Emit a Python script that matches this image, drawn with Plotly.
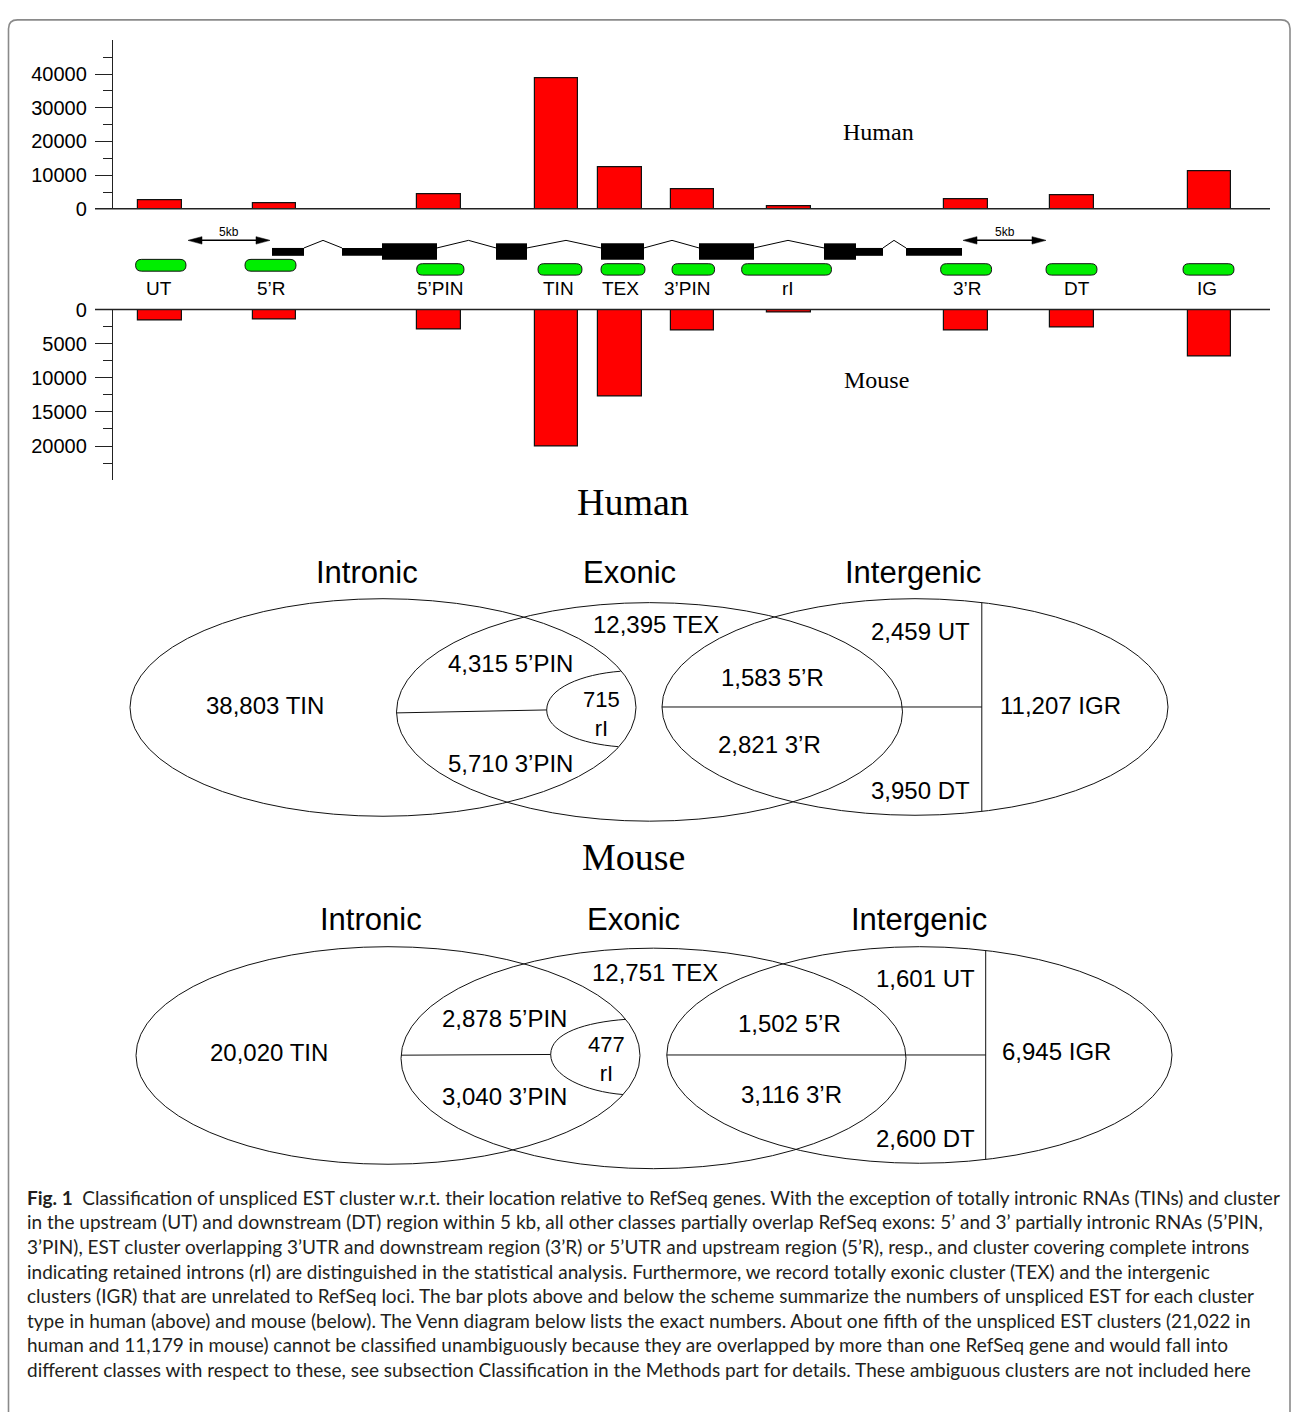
import plotly.graph_objects as go

W, H = 1291, 1412

# ---------------- data ----------------
categories = ["UT", "5’R", "5’PIN", "TIN", "TEX", "3’PIN", "rI", "3’R", "DT", "IG"]
human_counts = [2459, 1583, 4315, 38803, 12395, 5710, 715, 2821, 3950, 11207]
mouse_counts = [1601, 1502, 2878, 20020, 12751, 3040, 477, 3116, 2600, 6945]
human_ticks = [0, 10000, 20000, 30000, 40000]
human_minor = [5000, 15000, 25000, 35000, 45000]
mouse_ticks = [0, 5000, 10000, 15000, 20000]
mouse_minor = [2500, 7500, 12500, 17500, 22500]
venn_sets = ["Intronic", "Exonic", "Intergenic"]
venn_names = ["UT", "5’R", "5’PIN", "TIN", "TEX", "3’PIN", "rI", "3’R", "DT", "IGR"]

caption_lines = [
    "<b>Fig. 1</b>\u2002Classification of unspliced EST cluster w.r.t. their location relative to RefSeq genes. With the exception of totally intronic RNAs (TINs) and cluster",
    "in the upstream (UT) and downstream (DT) region within 5 kb, all other classes partially overlap RefSeq exons: 5’ and 3’ partially intronic RNAs (5’PIN,",
    "3’PIN), EST cluster overlapping 3’UTR and downstream region (3’R) or 5’UTR and upstream region (5’R), resp., and cluster covering complete introns",
    "indicating retained introns (rI) are distinguished in the statistical analysis. Furthermore, we record totally exonic cluster (TEX) and the intergenic",
    "clusters (IGR) that are unrelated to RefSeq loci. The bar plots above and below the scheme summarize the numbers of unspliced EST for each cluster",
    "type in human (above) and mouse (below). The Venn diagram below lists the exact numbers. About one fifth of the unspliced EST clusters (21,022 in",
    "human and 11,179 in mouse) cannot be classified unambiguously because they are overlapped by more than one RefSeq gene and would fall into",
    "different classes with respect to these, see subsection Classification in the Methods part for details. These ambiguous clusters are not included here",
]

# ---------------- layout (scheme coordinates, pixels) ----------------
bar_x = [160, 274.5, 439, 556.7, 620, 692.5, 789, 966, 1072, 1209.5]
BAR_W = 43.5
pill_x = [(135.6, 186), (245, 296), (416.7, 464), (538, 582), (601, 645),
          (672, 714.6), (741.6, 831.5), (940.6, 991.6), (1046, 1097), (1183, 1234)]
pill_y = [(252.3, 264.3), (252.3, 264.3)] + [(256.7, 268.3)] * 8
label_x = [159, 271.6, 440, 558, 620.6, 687, 788, 967.5, 1077, 1207]

SANS = "Liberation Sans, Arial, Helvetica, sans-serif"
SERIF = "Liberation Serif, Times New Roman, serif"


def X(p):
    return p / W


def Y(p):
    return 1 - p / H


def pt(x, y):
    return f"{X(x):.6f},{Y(y):.6f}"


fig = go.Figure()

fig.add_trace(go.Bar(x=bar_x, y=human_counts, width=BAR_W, xaxis="x", yaxis="y",
                     marker=dict(color="#ff0000", line=dict(color="#111111", width=1.2)),
                     showlegend=False, hoverinfo="skip"))
fig.add_trace(go.Bar(x=bar_x, y=mouse_counts, width=BAR_W, xaxis="x", yaxis="y2",
                     marker=dict(color="#ff0000", line=dict(color="#111111", width=1.2)),
                     showlegend=False, hoverinfo="skip"))

shapes = []
ann = []

# frame
frame = (f"M {pt(8.5, 1430)} L {pt(8.5, 18)} Q {pt(8.5, 9)} {pt(17.5, 9)} L {pt(1281, 9)} "
         f"Q {pt(1290, 9)} {pt(1290, 18)} L {pt(1290, 1430)}")
shapes.append(dict(type="path", xref="paper", yref="paper", path=frame,
                   line=dict(color="#8a8a8a", width=1.6)))

# baselines
for yb in (201, 303.3):
    shapes.append(dict(type="line", xref="paper", yref="paper", x0=X(95), x1=X(1270),
                       y0=Y(yb), y1=Y(yb), line=dict(color="#222222", width=1.5)))

# gene scheme: exons
thin = (240.7, 248.7)
thick = (236, 252.7)
exons = [(272, 304, thin), (342, 382, thin), (382, 437, thick), (496, 527, thick),
         (601, 644, thick), (699, 754, thick), (824, 856, thick), (856, 883, thin),
         (906, 962, thin)]
for x0, x1, (ya, yb) in exons:
    shapes.append(dict(type="rect", xref="paper", yref="paper", x0=X(x0), x1=X(x1),
                       y0=Y(yb), y1=Y(ya), fillcolor="#000000", line=dict(width=0)))
introns = [(304, 323, 342), (437, 468.5, 496), (527, 566, 601), (644, 672, 699),
           (754, 788, 824), (883, 894, 906)]
for a, m, b in introns:
    shapes.append(dict(type="path", xref="paper", yref="paper",
                       path=f"M {pt(a, 240.7)} L {pt(m, 233)} L {pt(b, 240.7)}",
                       line=dict(color="#000000", width=1)))

# 5kb arrows
for a, b in ((188, 270), (963, 1046)):
    yy = 233
    shapes.append(dict(type="line", xref="paper", yref="paper", x0=X(a + 10), x1=X(b - 10),
                       y0=Y(yy), y1=Y(yy), line=dict(color="#000000", width=1.5)))
    shapes.append(dict(type="path", xref="paper", yref="paper",
                       path=f"M {pt(a, yy)} L {pt(a + 14, yy - 3.8)} L {pt(a + 14, yy + 3.8)} Z",
                       fillcolor="#000000", line=dict(color="#000000", width=0.5)))
    shapes.append(dict(type="path", xref="paper", yref="paper",
                       path=f"M {pt(b, yy)} L {pt(b - 14, yy - 3.8)} L {pt(b - 14, yy + 3.8)} Z",
                       fillcolor="#000000", line=dict(color="#000000", width=0.5)))
    ann.append(dict(x=X((a + b) / 2), y=Y(224), xref="paper", yref="paper", text="5kb",
                    showarrow=False, font=dict(family=SANS, size=12, color="#000000"),
                    xanchor="center", yanchor="middle"))

# pills and labels
for (x0, x1), (y0, y1), lx, name in zip(pill_x, pill_y, label_x, categories):
    r = (y1 - y0) / 2
    p = (f"M {pt(x0 + r, y0)} L {pt(x1 - r, y0)} Q {pt(x1, y0)} {pt(x1, y0 + r)} "
         f"Q {pt(x1, y1)} {pt(x1 - r, y1)} L {pt(x0 + r, y1)} Q {pt(x0, y1)} {pt(x0, y1 - r)} "
         f"Q {pt(x0, y0)} {pt(x0 + r, y0)} Z")
    shapes.append(dict(type="path", xref="paper", yref="paper", path=p,
                       fillcolor="#00ee00", line=dict(color="#111111", width=1)))
    ann.append(dict(x=X(lx), y=Y(281.5), xref="paper", yref="paper", text=name,
                    showarrow=False, font=dict(family=SANS, size=19, color="#000000"),
                    xanchor="center", yanchor="middle"))

ann.append(dict(x=X(878), y=Y(123), xref="paper", yref="paper", text="Human", showarrow=False,
                font=dict(family=SERIF, size=24, color="#000000"), xanchor="center", yanchor="middle"))
ann.append(dict(x=X(876), y=Y(375), xref="paper", yref="paper", text="Mouse", showarrow=False,
                font=dict(family=SERIF, size=24, color="#000000"), xanchor="center", yanchor="middle"))


# ---------------- Venn diagrams ----------------
def venn(title, ty, ells, hline, tip, rtop, rbot, rvx, values, pos, set_y):
    ann.append(dict(x=X(633), y=Y(ty), xref="paper", yref="paper", text=title, showarrow=False,
                    font=dict(family=SERIF, size=38, color="#000000"),
                    xanchor="center", yanchor="middle"))
    for (cx, cy, ax, ay) in ells:
        shapes.append(dict(type="circle", xref="paper", yref="paper",
                           x0=X(cx - ax), x1=X(cx + ax), y0=Y(cy + ay), y1=Y(cy - ay),
                           line=dict(color="#111111", width=1)))
    # Intronic/Exonic split line
    shapes.append(dict(type="path", xref="paper", yref="paper",
                       path=f"M {pt(hline[0], hline[1])} L {pt(tip[0], tip[1])}",
                       line=dict(color="#111111", width=1)))
    # rI pocket
    tx, tyy = tip
    p = (f"M {pt(rtop[0], rtop[1])} C {pt(tx + 35, rtop[1] + 3)} {pt(tx, tyy - 22)} {pt(tx, tyy)} "
         f"C {pt(tx, tyy + 22)} {pt(tx + 35, rbot[1] - 3)} {pt(rbot[0], rbot[1])}")
    shapes.append(dict(type="path", xref="paper", yref="paper", path=p,
                       line=dict(color="#111111", width=1)))
    # Intergenic split lines
    cx, cy, ax, ay = ells[2]
    dy = ay * (1 - ((rvx - cx) / ax) ** 2) ** 0.5
    shapes.append(dict(type="line", xref="paper", yref="paper", x0=X(rvx), x1=X(rvx),
                       y0=Y(cy - dy), y1=Y(cy + dy), line=dict(color="#111111", width=1)))
    shapes.append(dict(type="line", xref="paper", yref="paper", x0=X(cx - ax), x1=X(rvx),
                       y0=Y(cy), y1=Y(cy), line=dict(color="#111111", width=1)))
    # set titles
    for (sx, sname) in zip(set_y[0], venn_sets):
        ann.append(dict(x=X(sx), y=Y(set_y[1]), xref="paper", yref="paper", text=sname,
                        showarrow=False, font=dict(family=SANS, size=31, color="#000000"),
                        xanchor="center", yanchor="middle"))
    # numbers
    for name, v in zip(venn_names, values):
        px_, py_ = pos[name]
        if name == "rI":
            txt, size = f"{v:,}<br>{name}", 22
        else:
            txt, size = f"{v:,} {name}", 24
        ann.append(dict(x=X(px_), y=Y(py_), xref="paper", yref="paper", text=txt,
                        showarrow=False, font=dict(family=SANS, size=size, color="#000000"),
                        xanchor="center", yanchor="middle"))


human_pos = {"TIN": (265, 705), "5’PIN": (510, 663), "3’PIN": (510, 764), "rI": (601, 714),
             "TEX": (656, 623), "UT": (920, 630), "5’R": (772, 677), "3’R": (769, 745),
             "DT": (920, 792), "IGR": (1060, 705)}
mouse_pos = {"TIN": (269, 1058), "5’PIN": (504.5, 1023), "3’PIN": (504.5, 1103), "rI": (606, 1065),
             "TEX": (655, 977), "UT": (925, 983), "5’R": (789, 1029), "3’R": (791, 1101),
             "DT": (925, 1145), "IGR": (1056, 1057)}

venn("Human", 499,
     [(383, 707.5, 253, 110.5), (649.5, 712, 253, 111), (915, 707, 253, 110)],
     (396.5, 713), (546.7, 710), (620.5, 670.7), (618, 747.3), 981.8,
     human_counts, human_pos, ((367, 629, 913), 570))
venn("Mouse", 859,
     [(388, 1061, 252, 110.5), (653.5, 1064, 252.5, 112), (919.4, 1060.5, 252.6, 110)],
     (401, 1060.7), (550.7, 1060), (625.7, 1024.3), (623, 1100.7), 985.7,
     mouse_counts, mouse_pos, ((371.4, 633, 918.6), 923))

# caption
cap_y = [1205, 1230, 1255, 1280, 1305, 1330, 1355, 1380]
for txt, cy in zip(caption_lines, cap_y):
    ann.append(dict(x=X(25), y=Y(cy), xref="paper", yref="paper", text=txt, showarrow=False,
                    font=dict(family="Lato, Open Sans, sans-serif", size=19, color="#231f20"),
                    xanchor="left", yanchor="middle"))

tickfont = dict(family=SANS, size=20, color="#000000")
common_y = dict(anchor="free", position=112 / W, showline=True, linecolor="#222222", linewidth=1.4,
                ticks="outside", ticklen=17, tickwidth=1.4, tickcolor="#222222", showgrid=False,
                zeroline=False, tickfont=tickfont, tickmode="array", ticklabelstandoff=4,
                fixedrange=True)

fig.update_layout(
    width=W, height=H, margin=dict(l=0, r=0, t=0, b=0, pad=0),
    paper_bgcolor="#ffffff", plot_bgcolor="rgba(0,0,0,0)",
    showlegend=False, bargap=0,
    xaxis=dict(domain=[0, 1], range=[0, W], visible=False, fixedrange=True),
    yaxis=dict(domain=[Y(201), Y(29.75)], range=[0, 50000],
               tickvals=human_ticks, ticktext=[str(t) for t in human_ticks],
               minor=dict(tickvals=human_minor, ticks="outside", ticklen=9, tickwidth=1.4,
                          tickcolor="#222222", showgrid=False),
               **common_y),
    yaxis2=dict(domain=[Y(476.6), Y(303.3)], range=[25000, 0],
                tickvals=mouse_ticks, ticktext=[str(t) for t in mouse_ticks],
                minor=dict(tickvals=mouse_minor, ticks="outside", ticklen=9, tickwidth=1.4,
                           tickcolor="#222222", showgrid=False),
                **common_y),
    shapes=shapes,
    annotations=ann,
)

fig.write_html("out.html", config={"displayModeBar": False},
               post_script="document.body.style.margin='0';document.body.style.overflow='hidden';")
